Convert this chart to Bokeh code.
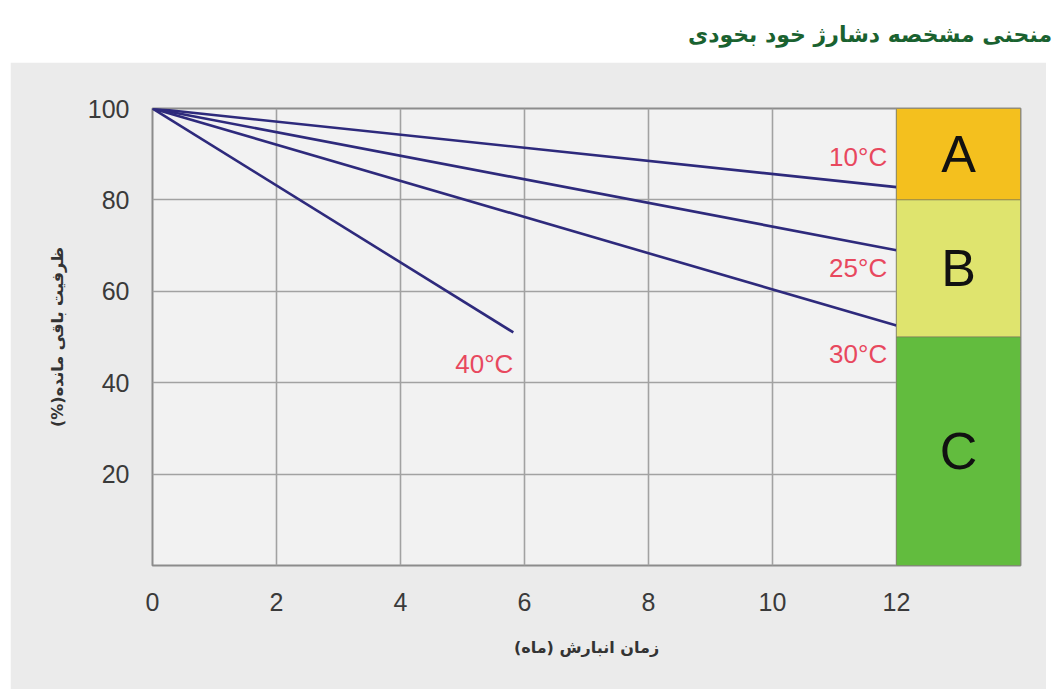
from bokeh.plotting import figure
from bokeh.models import Range1d, FixedTicker, Label, Div, ColumnDataSource
from bokeh.layouts import column
from bokeh.embed import file_html
from bokeh.resources import INLINE

# ---- data ----
title_text = "منحنی مشخصه دشارژ خود بخودی"
x_label = "زمان انبارش (ماه)"
y_label = "ظرفیت باقی مانده(%)\u200f"

x_ticks = [0, 2, 4, 6, 8, 10, 12]
y_ticks = [20, 40, 60, 80, 100]

series_names = ["10°C", "25°C", "30°C", "40°C"]
series_months = [[0, 12], [0, 12], [0, 12], [0, 5.82]]
series_capacity = [[100, 82.8], [100, 69.0], [100, 52.5], [100, 51.0]]
label_pos_x = [11.85, 11.85, 11.85, 5.82]
label_pos_y = [89.3, 65.0, 46.2, 44.2]

grade_names = ["A", "B", "C"]
grade_bottom = [80, 50, 0]
grade_top = [100, 80, 50]
grade_colors = ["#f4c01e", "#dfe46e", "#62bc3e"]
grade_left = 12
grade_right = 14

# ---- figure ----
p = figure(width=1036, height=627, output_backend="svg", toolbar_location=None,
           x_range=Range1d(0, 14), y_range=Range1d(0, 100),
           min_border_left=142, min_border_right=26, min_border_top=46, min_border_bottom=124)
p.margin = (0, 0, 0, 10)
p.border_fill_color = "#ebebeb"
p.background_fill_color = "#f2f2f2"
p.outline_line_color = "#8c8c8c"
p.outline_line_width = 2

for ax in (p.xaxis[0], p.yaxis[0]):
    ax.axis_line_color = None
    ax.major_tick_line_color = None
    ax.minor_tick_line_color = None
    ax.major_label_text_font = "Liberation Sans"
    ax.major_label_text_font_size = "25px"
    ax.major_label_text_color = "#3a3a3a"
    ax.axis_label_text_font = "DejaVu Sans"
    ax.axis_label_text_font_style = "bold"
    ax.axis_label_text_font_size = "16px"
    ax.axis_label_text_color = "#333333"
p.xaxis.ticker = FixedTicker(ticks=x_ticks)
p.yaxis.ticker = FixedTicker(ticks=y_ticks)
p.xaxis.major_label_standoff = 21
p.yaxis.major_label_standoff = 17
p.xaxis.axis_label = x_label
p.yaxis.axis_label = y_label
p.xaxis.axis_label_standoff = 24
p.yaxis.axis_label_standoff = 18

p.xgrid.ticker = FixedTicker(ticks=x_ticks)
p.ygrid.ticker = FixedTicker(ticks=y_ticks)
for g in (p.xgrid[0], p.ygrid[0]):
    g.grid_line_color = "#a2a2a2"
    g.grid_line_width = 1.6

for xs, ys in zip(series_months, series_capacity):
    p.line(xs, ys, line_color="#2e2a7c", line_width=2.6)

src = ColumnDataSource(dict(bottom=grade_bottom, top=grade_top, color=grade_colors))
p.quad(left=grade_left, right=grade_right, bottom="bottom", top="top", fill_color="color",
       line_color="#7a7a5a", line_alpha=0.6, line_width=1, source=src)

for name, b, t in zip(grade_names, grade_bottom, grade_top):
    p.add_layout(Label(x=(grade_left + grade_right) / 2, y=(b + t) / 2, text=name,
                       text_align="center", text_baseline="middle",
                       text_font="Liberation Sans", text_font_size="52px", text_color="#111111"))

for name, lx, ly in zip(series_names, label_pos_x, label_pos_y):
    p.add_layout(Label(x=lx, y=ly, text=name, text_align="right", text_baseline="middle",
                       text_font="Liberation Sans", text_font_size="26px", text_color="#e8485e"))

title = Div(text=f'<div style="text-align:right;width:1052px;padding-top:19px;'
                 f'font-family:\'DejaVu Sans\';font-weight:bold;font-size:22px;color:#1a6230;">'
                 f'{title_text}</div>', width=1052, height=62, margin=(0, 0, 0, 0))

layout = column(title, p, spacing=0, margin=(0, 0, 0, 0))

open("out.html", "w").write(file_html(layout, INLINE))
